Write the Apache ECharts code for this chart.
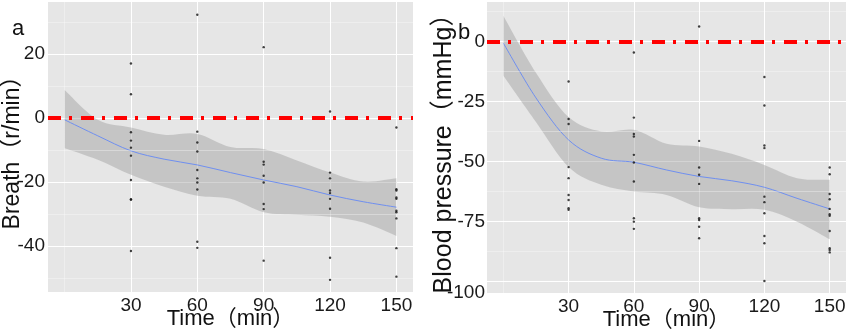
<!DOCTYPE html>
<html>
<head>
<meta charset="utf-8">
<script src="https://cdn.jsdelivr.net/npm/echarts@6/dist/echarts.min.js"></script>
<style>
  html, body { margin: 0; padding: 0; background: #fff; }
  #chart { width: 851px; height: 331px; }
</style>
</head>
<body>
<div id="chart"></div>
<script>
// measurement times and tick labels
const times = [30, 60, 90, 120, 150];
const fitTimes = [0, 15, 30, 45, 60, 75, 90, 105, 120, 135, 150];

// panel a: breath change (r/min)
const breath30 = [17.1, 7.5, -4.4, -7.0, -9.2, -11.7, -19.3, -25.3, -25.5, -41.5];
const breath60 = [32.3, -4.2, -7.6, -10.4, -16.2, -18.8, -20.1, -22.3, -38.6, -40.5];
const breath90 = [22.2, -13.6, -14.5, -18.0, -20.1, -26.8, -28.4, -44.5];
const breath120 = [2.1, -17.0, -18.8, -22.6, -23.4, -25.2, -28.3, -43.6, -50.5];
const breath150 = [-2.9, -22.2, -22.6, -24.8, -25.2, -28.9, -29.4, -31.3, -40.6, -49.5];
const breathFit = [-0.5, -5.5, -10.2, -12.8, -14.6, -17.0, -19.3, -21.4, -24.0, -26.1, -27.8];
const breathUpper = [8.8, -0.5, -2.9, -5.2, -4.9, -9.0, -9.6, -13.2, -17.0, -19.8, -18.8];
const breathLower = [-9.4, -13.0, -17.7, -21.4, -24.2, -25.2, -29.4, -30.2, -30.8, -32.6, -36.8];
const breathTicks = [20, 0, -20, -40];
const breathMinor = [30, 10, -10, -30, -50];

// panel b: blood pressure change (mmHg)
const bp30 = [-16.7, -32.3, -34.4, -52.3, -56.9, -63.9, -66.0, -69.4, -70.1];
const bp60 = [-4.6, -31.7, -38.5, -39.6, -47.2, -50.4, -58.3, -73.6, -75.0, -78.0];
const bp90 = [6.2, -41.4, -52.5, -55.5, -59.3, -73.6, -74.3, -77.1, -81.9];
const bp120 = [-14.8, -26.7, -43.3, -44.4, -64.6, -66.9, -71.5, -81.0, -84.0, -99.7];
const bp150 = [-52.5, -55.3, -63.5, -65.7, -69.7, -71.9, -72.6, -78.9, -86.1, -86.8, -87.8];
const bpFit = [-0.7, -23.5, -41.0, -48.6, -50.3, -53.5, -56.2, -58.0, -60.7, -65.3, -69.7];
const bpUpper = [10.7, -13.0, -31.5, -37.5, -36.8, -42.6, -43.7, -46.8, -51.4, -56.9, -57.6];
const bpLower = [-14.3, -33.5, -52.3, -59.7, -62.5, -63.9, -69.0, -69.8, -70.1, -75.0, -82.3];
const bpTicks = [0, -25, -50, -75, -100];
const bpMinor = [12.5, -12.5, -37.5, -62.5, -87.5];

const FONT = "'Liberation Sans', 'Noto Sans CJK SC', Arial, sans-serif";

function toPoints(groups) {
    const pts = [];
    groups.forEach(function (vals, i) {
        vals.forEach(function (v) { pts.push([times[i], v]); });
    });
    return pts;
}

// catmull-rom -> cubic bezier through pixel points
function curve(p) {
    let d = '';
    for (let i = 0; i < p.length - 1; i++) {
        const p0 = p[i - 1] || p[i], p1 = p[i], p2 = p[i + 1], p3 = p[i + 2] || p2;
        const c1 = [p1[0] + (p2[0] - p0[0]) / 6, p1[1] + (p2[1] - p0[1]) / 6];
        const c2 = [p2[0] - (p3[0] - p1[0]) / 6, p2[1] - (p3[1] - p1[1]) / 6];
        d += ' C' + c1[0] + ' ' + c1[1] + ' ' + c2[0] + ' ' + c2[1] + ' ' + p2[0] + ' ' + p2[1];
    }
    return d;
}

function bandRender(lo, hi) {
    return function (params, api) {
        const up = fitTimes.map(function (t, i) { return api.coord([t, hi[i]]); });
        const dn = fitTimes.map(function (t, i) { return api.coord([t, lo[i]]); }).reverse();
        const d = 'M' + up[0][0] + ' ' + up[0][1] + curve(up) +
            ' L' + dn[0][0] + ' ' + dn[0][1] + curve(dn) + ' Z';
        return {
            type: 'path',
            shape: { pathData: d },
            style: { fill: 'rgba(153,153,153,0.42)' }
        };
    };
}

function fitRender(fit) {
    return function (params, api) {
        const p = fitTimes.map(function (t, i) { return api.coord([t, fit[i]]); });
        return {
            type: 'path',
            shape: { pathData: 'M' + p[0][0] + ' ' + p[0][1] + curve(p) },
            style: { fill: null, stroke: '#6f8ff0', lineWidth: 1 }
        };
    };
}

function panelSeries(idx, pts, fit, lo, hi, minor) {
    return [
        {
            type: 'custom',
            xAxisIndex: idx, yAxisIndex: idx,
            coordinateSystem: 'cartesian2d',
            renderItem: bandRender(lo, hi),
            data: [0],
            silent: true,
            z: 3,
            markLine: {
                silent: true, symbol: 'none', label: { show: false },
                lineStyle: { color: 'rgba(255,255,255,0.55)', width: 0.6, type: 'solid' },
                data: minor.map(function (v) { return { yAxis: v }; }).concat([{ xAxis: 0 }])
            }
        },
        {
            type: 'custom',
            xAxisIndex: idx, yAxisIndex: idx,
            coordinateSystem: 'cartesian2d',
            renderItem: fitRender(fit),
            data: [0],
            silent: true,
            z: 4
        },
        {
            type: 'scatter',
            xAxisIndex: idx, yAxisIndex: idx,
            data: pts,
            symbolSize: 2.4,
            itemStyle: { color: '#111' },
            z: 6,
            markLine: {
                silent: true, symbol: 'none', label: { show: false },
                lineStyle: { color: '#ff0000', width: 4, type: [13, 8, 3, 9], cap: 'butt' },
                data: [{ yAxis: 0 }]
            }
        }
    ];
}

function xAxisFor(idx) {
    return {
        type: 'value', gridIndex: idx, min: -7.5, max: 157.5,
        name: 'Time（min）', nameLocation: 'middle', nameGap: 16,
        nameMoveOverlap: false,
        nameTextStyle: { fontSize: 22, color: '#111', fontFamily: FONT },
        axisLine: { show: false },
        axisTick: { show: false, customValues: times },
        axisLabel: { customValues: times, fontSize: 19, color: '#1a1a1a', margin: 4, fontFamily: FONT },
        splitLine: { show: true, lineStyle: { color: '#ffffff', width: 1 } }
    };
}

const chart = echarts.init(document.getElementById('chart'), null, { renderer: 'canvas' });

const option = {
    animation: false,
    backgroundColor: '#ffffff',
    graphic: [
        { type: 'text', style: { x: 12, y: 18, text: 'a', fontSize: 22, fontFamily: FONT, fill: '#111', textBaseline: 'alphabetic' } },
        { type: 'text', style: { x: 458, y: 22, text: 'b', fontSize: 22, fontFamily: FONT, fill: '#111', textBaseline: 'alphabetic' } }
    ],
    grid: [
        { left: 48, right: 438, top: 2, bottom: 39, show: true, backgroundColor: '#e6e6e6', borderWidth: 0, outerBoundsMode: 'none' },
        { left: 487, right: 5, top: 2, bottom: 38, show: true, backgroundColor: '#e6e6e6', borderWidth: 0, outerBoundsMode: 'none' }
    ],
    xAxis: [xAxisFor(0), xAxisFor(1)],
    yAxis: [
        {
            type: 'value', gridIndex: 0, min: -54.3, max: 36.3,
            name: 'Breath（r/min）', nameLocation: 'middle', nameGap: 24,
            nameMoveOverlap: false,
            nameTextStyle: { fontSize: 23, color: '#111', fontFamily: FONT },
            axisLine: { show: false },
            axisTick: { show: false, customValues: breathTicks },
            axisLabel: { customValues: breathTicks, fontSize: 19, color: '#1a1a1a', margin: 3, fontFamily: FONT },
            splitLine: { show: true, lineStyle: { color: '#ffffff', width: 1 } }
        },
        {
            type: 'value', gridIndex: 1, min: -104.7, max: 16.4,
            name: 'Blood pressure（mmHg）', nameLocation: 'middle', nameGap: 30,
            nameMoveOverlap: false,
            nameTextStyle: { fontSize: 25, color: '#111', fontFamily: FONT },
            axisLine: { show: false },
            axisTick: { show: false, customValues: bpTicks },
            axisLabel: {
                customValues: bpTicks, fontSize: 19, color: '#1a1a1a', margin: 2, fontFamily: FONT,
                formatter: function (v) { return v === -100 ? '{low|-100}' : String(v); },
                rich: { low: { fontSize: 19, fontFamily: FONT, color: '#1a1a1a', padding: [22, 0, 0, 0] } }
            },
            splitLine: { show: true, lineStyle: { color: '#ffffff', width: 1 } }
        }
    ],
    series: [].concat(
        panelSeries(0, toPoints([breath30, breath60, breath90, breath120, breath150]),
            breathFit, breathLower, breathUpper, breathMinor),
        panelSeries(1, toPoints([bp30, bp60, bp90, bp120, bp150]),
            bpFit, bpLower, bpUpper, bpMinor)
    )
};

chart.setOption(option);

window.addEventListener('resize', function () {
    chart.resize();
});
</script>
</body>
</html>
